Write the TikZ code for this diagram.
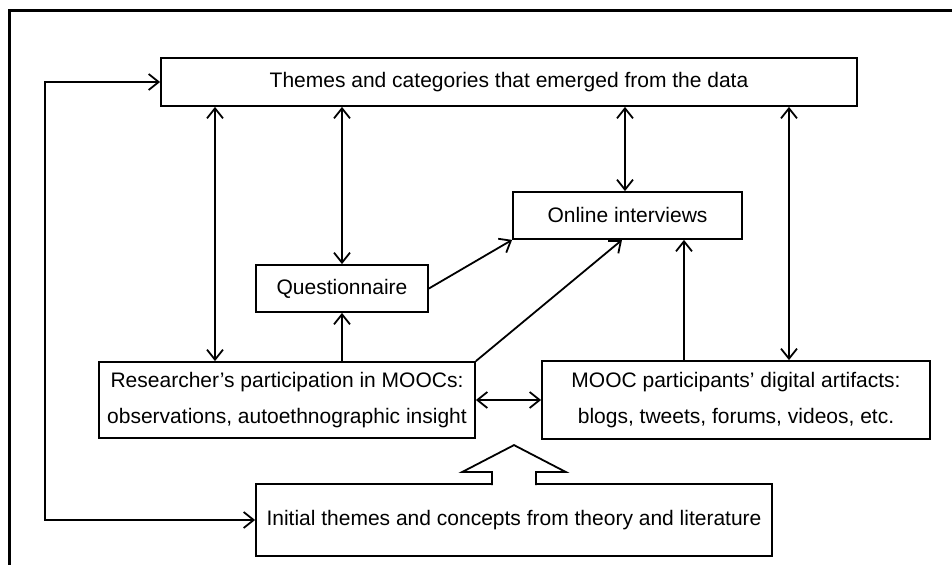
\documentclass[tikz,border=0pt]{standalone}
\usepackage{fontspec}
\setmainfont{Liberation Sans}
\usepackage{tikz}
\usetikzlibrary{arrows.meta, positioning}

\tikzset{
	box/.style={draw, line width=0.9pt, inner sep=0pt, align=center,
		font=\fontsize{10.5}{18}\selectfont},
	link/.style={draw, line width=0.9pt, -{Straight Barb[length=5pt, width=8pt]}},
	twoway/.style={draw, line width=0.9pt,
		{Straight Barb[length=5pt, width=8pt]}-{Straight Barb[length=5pt, width=8pt]}}
}

\begin{document}
\begin{tikzpicture}[x=0.5pt, y=-0.5pt]

\useasboundingbox (0,0) rectangle (952,565);
\draw [line width=1.5pt] (9,565) -- (9,11) -- (952,11);

% top level
\node [box, minimum width=348pt, minimum height=24pt] (themes) at (509,82) {
	Themes and categories that emerged from the data};

% middle level
\node [box, minimum width=114.5pt, minimum height=23.5pt] (online) at (627.5,215.5) {
	Online interviews};
\node [box, minimum width=86pt, minimum height=23.5pt] (quest) at (342,288.5) {
	Questionnaire};

% data sources
\node [box, minimum width=188pt, minimum height=38pt] (research) at (287,400) {
	Researcher’s participation in MOOCs: \\ observations, autoethnographic insight};
\node [box, minimum width=194pt, minimum height=39pt] (mooc) at (736,400) {
	MOOC participants’ digital artifacts: \\ blogs, tweets, forums, videos, etc.};

% bottom level
\node [box, minimum width=258pt, minimum height=36pt] (initial) at (514,520) {
	Initial themes and concepts from theory and literature};

\path [twoway] (themes.south -| 215,0) -- (research.north -| 215,0);
\path [twoway] (themes.south -| quest.north) -- (quest.north);
\path [twoway] (themes.south -| 625,0) -- (online.north -| 625,0);
\path [twoway] (themes.south -| 789,0) -- (mooc.north -| 789,0);

\path [link] (research.north -| quest.south) -- (quest.south);
\path [link] (quest.east) -- (online.south west);
\path [link] (research.north east) -- (online.south -| 622,0);
\path [link] (mooc.north -| 684,0) -- (online.south -| 684,0);
\path [twoway] (research.east) -- (mooc.west);

\path [twoway] (themes.west) -- ++(-115,0) |- (initial.west);

% block arrow
\path [draw, fill=white, line width=0.9pt] ([shift={(-22,2)}]initial.north)
	-- ++(0,-13) -- ++(-30,0) -- ++(52,-27) -- ++(52,27) -- ++(-30,0) -- ++(0,13);

\end{tikzpicture}
\end{document}
